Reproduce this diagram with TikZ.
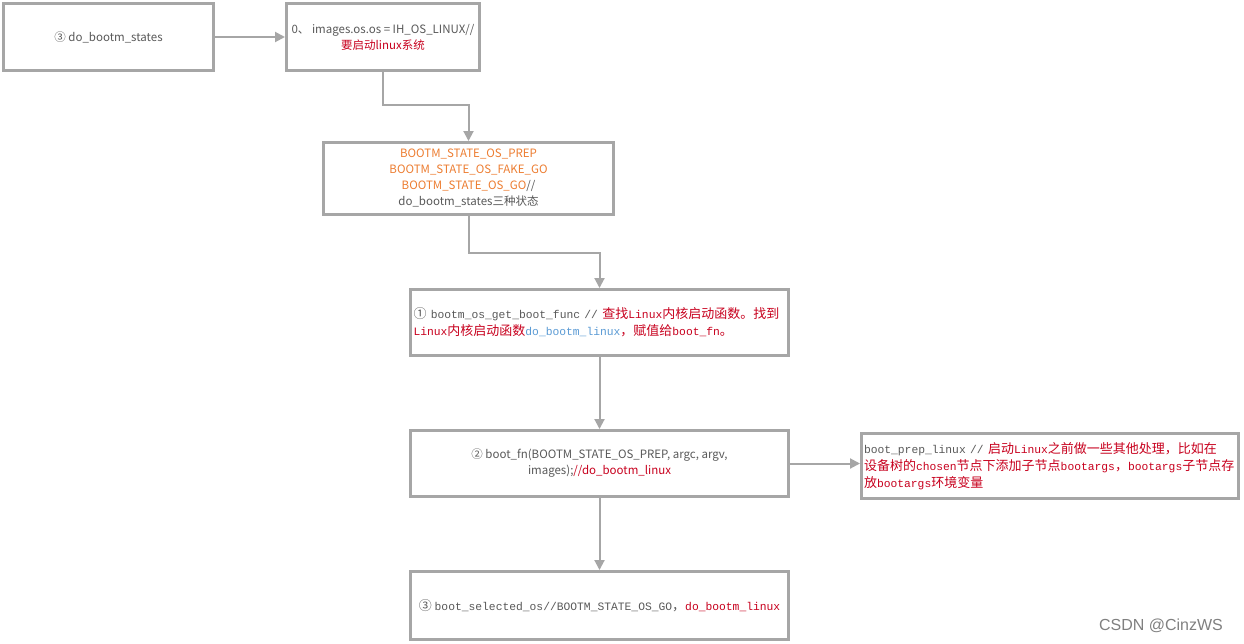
\documentclass[tikz,border=0pt]{standalone}
\usepackage{fontspec}
\setmainfont{Noto Sans CJK SC}
\setmonofont{Liberation Mono}[Scale=0.87]
\newfontfamily\wmfont{Liberation Sans}
\usetikzlibrary{shapes,arrows,arrows.meta}
\definecolor{boxgray}{HTML}{A6A6A6}
\definecolor{txtgray}{HTML}{595959}
\definecolor{txtred}{HTML}{C8001E}
\definecolor{txtorange}{HTML}{ED7D31}
\definecolor{txtblue}{HTML}{5B9BD5}
\tikzstyle{block} = [draw=boxgray, line width=3pt, fill=white, inner sep=2pt, text=txtgray, font=\fontsize{11.5}{16}\selectfont, align=center]
\tikzstyle{codeblock} = [block, font=\fontsize{13}{16.8}\selectfont]
\tikzstyle{line} = [draw=boxgray, line width=2pt, -{Triangle[length=10pt,width=10pt]}]
\newcommand{\rd}[1]{\textcolor{txtred}{#1}}
\newcommand{\og}[1]{\textcolor{txtorange}{#1}}
\newcommand{\bl}[1]{\textcolor{txtblue}{#1}}
\begin{document}
\begin{tikzpicture}[x=1pt, y=-1pt]
		\useasboundingbox[fill=white] (0,0) rectangle (1244,643);

		\node [block, minimum width=210, minimum height=67] (states) at (108.5,37) {③ do\_bootm\_states};
		\node [block, minimum width=193, minimum height=67] (osos) at (383,37) {0、 images.os.os = IH\_OS\_LINUX//\\ \rd{要启动linux系统}};
		\node [block, minimum width=290, minimum height=72] (three) at (468.5,178.5) {\og{BOOTM\_STATE\_OS\_PREP}\\ \og{BOOTM\_STATE\_OS\_FAKE\_GO}\\ \og{BOOTM\_STATE\_OS\_GO}//\\ do\_bootm\_states三种状态};
		\node [codeblock, align=left, minimum width=378, minimum height=66, text width=372] (getfunc) at (599.5,322.5) {① {\ttfamily bootm\_os\_get\_boot\_func // }\rd{查找{\ttfamily Linux}内核启动函数。找到}\\ \rd{{\ttfamily Linux}内核启动函数}\bl{\ttfamily do\_bootm\_linux}\rd{，赋值给{\ttfamily boot\_fn}。}};
		\node [block, minimum width=378, minimum height=66] (bootfn) at (599.5,463.5) {② boot\_fn(BOOTM\_STATE\_OS\_PREP, argc, argv,\\ images);\rd{//do\_bootm\_linux}};
		\node [codeblock, align=left, minimum width=377, minimum height=65, text width=372] (prep) at (1050,466) {{\ttfamily boot\_prep\_linux // }\rd{启动{\ttfamily Linux}之前做一些其他处理，比如在}\\ \rd{设备树的{\ttfamily chosen}节点下添加子节点{\ttfamily bootargs}，{\ttfamily bootargs}子节点存}\\ \rd{放{\ttfamily bootargs}环境变量}};
		\node [codeblock, minimum width=378, minimum height=68] (selected) at (599.5,605.5) {③ {\ttfamily boot\_selected\_os//BOOTM\_STATE\_OS\_GO}，\rd{\ttfamily do\_bootm\_linux}};
		\node [text=gray, font=\wmfont\fontsize{16}{18}\selectfont] (mark) at (1161,626) {CSDN @CinzWS};

		\draw [line] (states) -- (osos);
		\draw [line] (osos.south) -- ++(0,33) -| (three.north);
		\draw [line] (three.south) -- ++(0,37) -| (getfunc.north);
		\draw [line] (getfunc) -- (bootfn);
		\draw [line] (bootfn) -- (prep.west |- bootfn);
		\draw [line] (bootfn) -- (selected);

		\end{tikzpicture}
\end{document}
